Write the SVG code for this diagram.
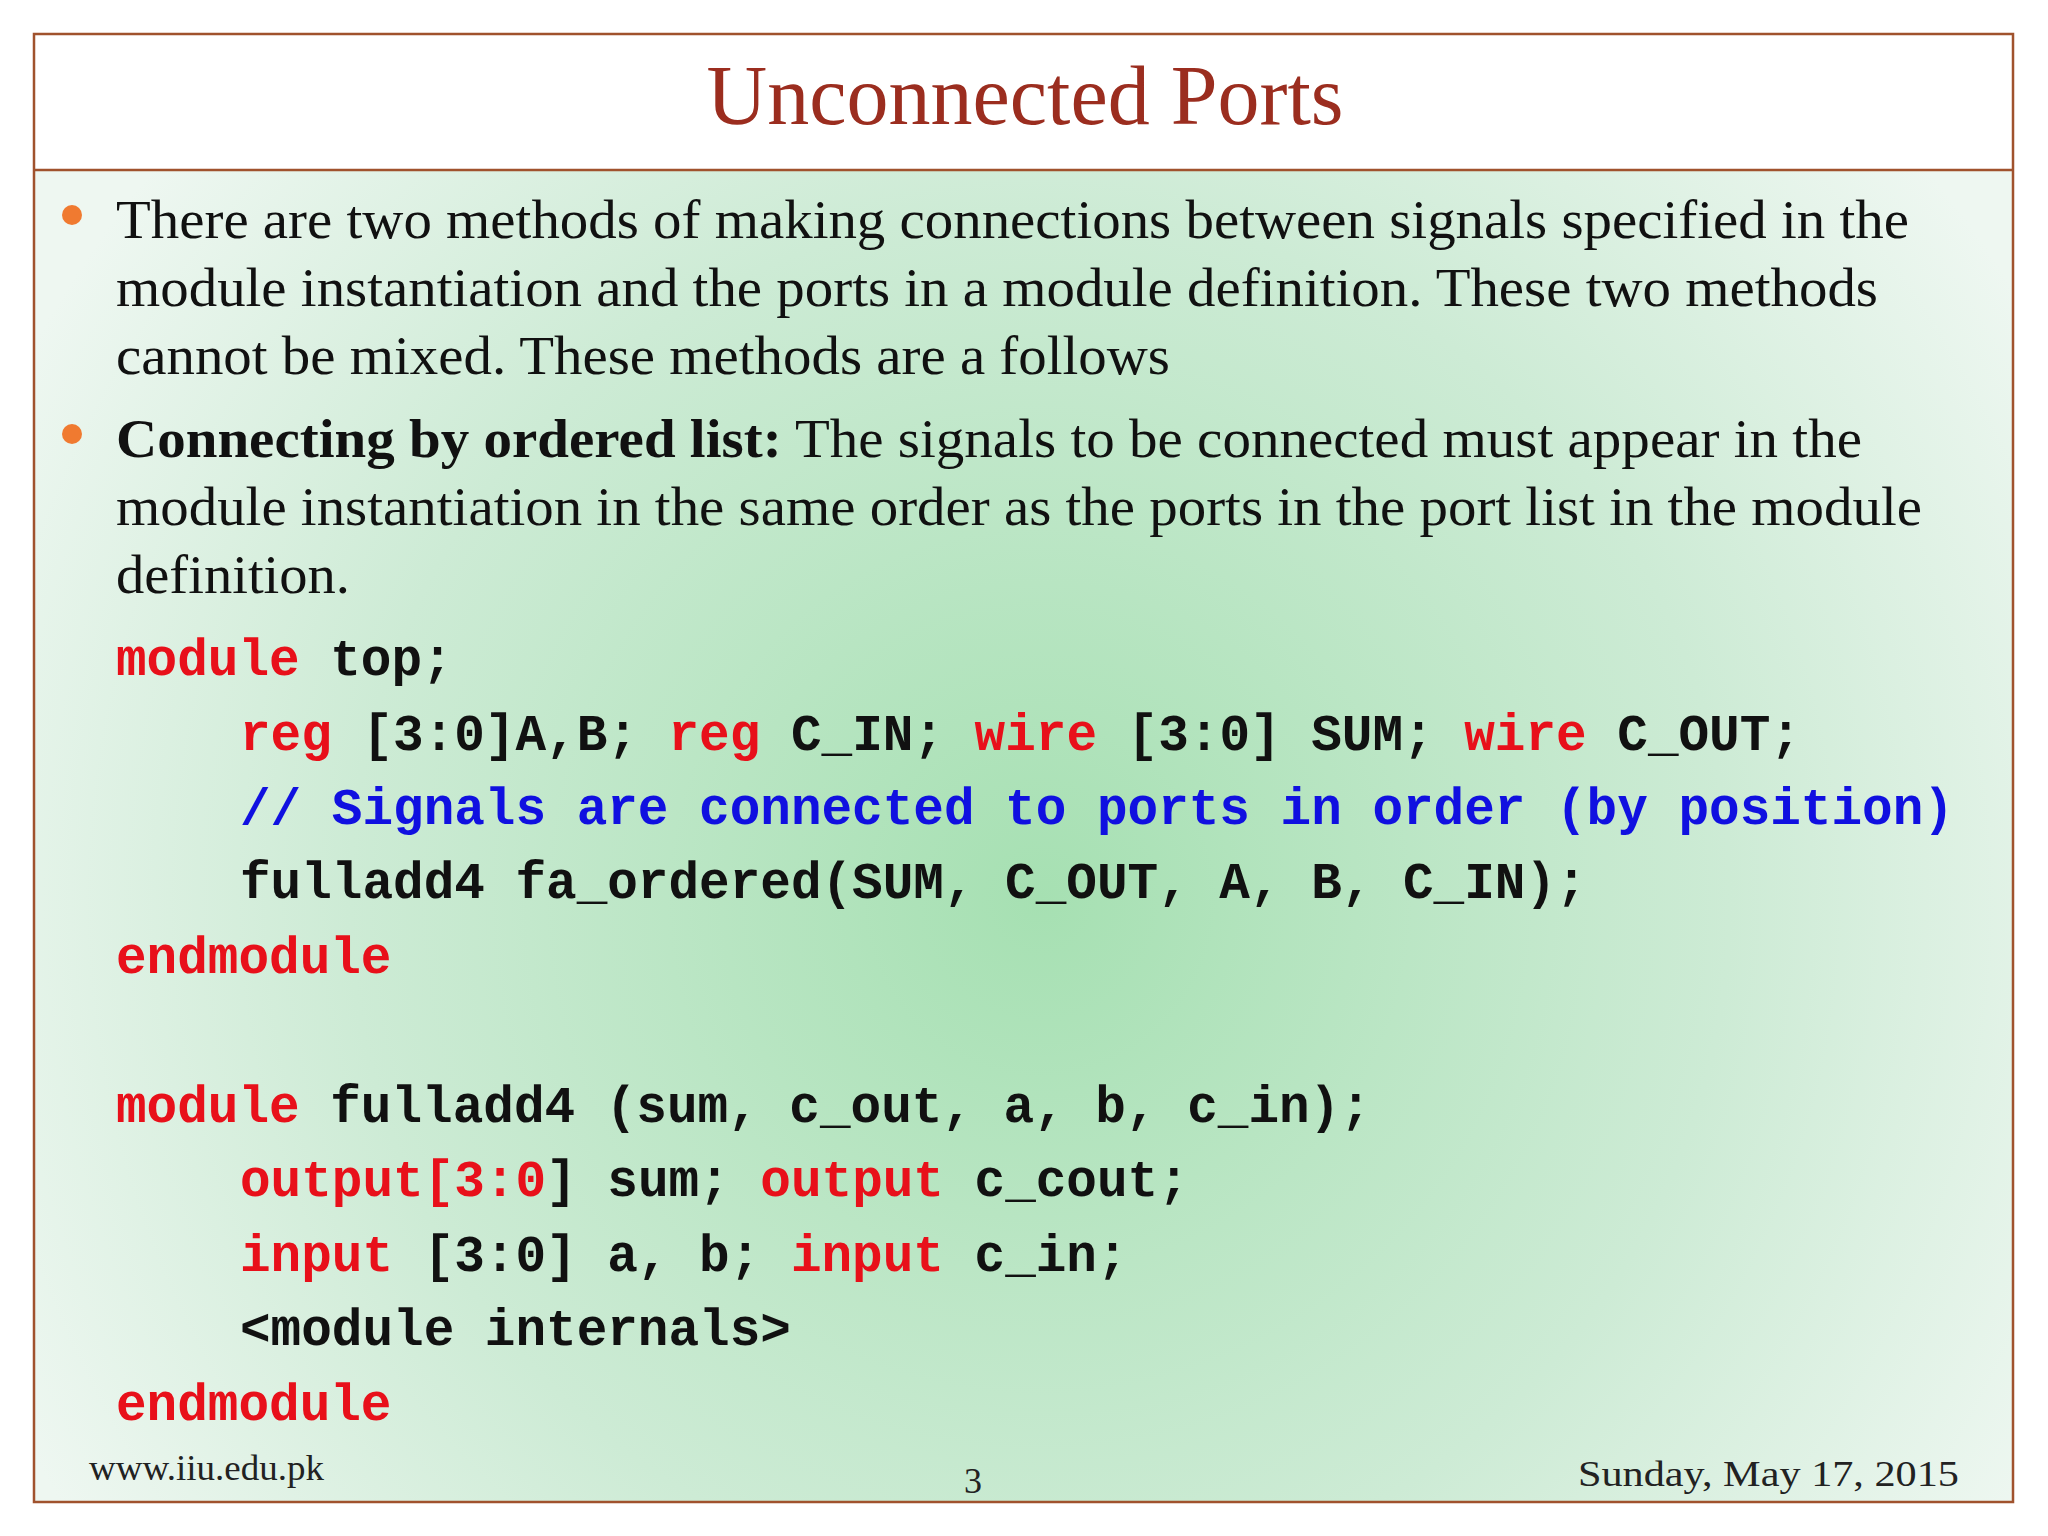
<svg xmlns="http://www.w3.org/2000/svg" width="2048" height="1536" viewBox="0 0 2048 1536">
<defs>
<radialGradient id="bg" cx="1040" cy="900" r="1150" gradientUnits="userSpaceOnUse">
<stop offset="0" stop-color="#a6e0b2"/><stop offset="0.6" stop-color="#cdebd5"/><stop offset="1" stop-color="#eef7f1"/>
</radialGradient>
<style>
.t{font-family:"Liberation Serif",serif;font-size:55px;fill:#111}
.c{font-family:"Liberation Mono",monospace;font-size:51px;font-weight:bold;fill:#111}
.k{fill:#e8101a}.b{fill:#1010e0}
.f{font-family:"Liberation Serif",serif;font-size:36px;fill:#222}
</style>
</defs>
<rect width="2048" height="1536" fill="#fff"/>
<rect x="34" y="170" width="1979" height="1332" fill="url(#bg)"/>
<rect x="34" y="34" width="1979" height="1468" fill="none" stroke="#a0522d" stroke-width="2.5"/>
<line x1="34" y1="170" x2="2013" y2="170" stroke="#a0522d" stroke-width="2.5"/>
<text x="1025" y="124" text-anchor="middle" font-family="Liberation Serif,serif" font-size="84" fill="#9b2d1f">Unconnected Ports</text>
<g id="bullets">
<circle cx="72" cy="215" r="10" fill="#f07a30"/>
<circle cx="72" cy="434" r="10" fill="#f07a30"/>
<text class="t" x="116" y="238" textLength="1793" lengthAdjust="spacingAndGlyphs">There are two methods of making connections between signals specified in the</text>
<text class="t" x="116" y="306" textLength="1762" lengthAdjust="spacingAndGlyphs">module instantiation and the ports in a module definition. These two methods</text>
<text class="t" x="116" y="374" textLength="1054" lengthAdjust="spacingAndGlyphs">cannot be mixed. These methods are a follows</text>
<text class="t" x="116" y="457" textLength="1746" lengthAdjust="spacingAndGlyphs"><tspan font-weight="bold">Connecting by ordered list:</tspan> The signals to be connected must appear in the</text>
<text class="t" x="116" y="525" textLength="1806" lengthAdjust="spacingAndGlyphs">module instantiation in the same order as the ports in the port list in the module</text>
<text class="t" x="116" y="593" textLength="234" lengthAdjust="spacingAndGlyphs">definition.</text>
</g>
<g id="code" xml:space="preserve">
<text class="c" x="116" y="675"><tspan class="k">module</tspan> top;</text>
<text class="c" x="240" y="750"><tspan class="k">reg</tspan> [3:0]A,B; <tspan class="k">reg</tspan> C_IN; <tspan class="k">wire</tspan> [3:0] SUM; <tspan class="k">wire</tspan> C_OUT;</text>
<text class="c b" x="240" y="824">// Signals are connected to ports in order (by position)</text>
<text class="c" x="240" y="898">fulladd4 fa_ordered(SUM, C_OUT, A, B, C_IN);</text>
<text class="c k" x="116" y="973">endmodule</text>
<text class="c" x="116" y="1122"><tspan class="k">module</tspan> fulladd4 (sum, c_out, a, b, c_in);</text>
<text class="c" x="240" y="1196"><tspan class="k">output[3:0</tspan>] sum; <tspan class="k">output</tspan> c_cout;</text>
<text class="c" x="240" y="1271"><tspan class="k">input</tspan> [3:0] a, b; <tspan class="k">input</tspan> c_in;</text>
<text class="c" x="240" y="1345">&lt;module internals&gt;</text>
<text class="c k" x="116" y="1420">endmodule</text>
</g>
<g id="footer">
<text class="f" x="89" y="1480" textLength="235" lengthAdjust="spacingAndGlyphs">www.iiu.edu.pk</text>
<text class="f" x="973" y="1493" text-anchor="middle" font-size="40">3</text>
<text class="f" x="1578" y="1486" font-size="41" textLength="381" lengthAdjust="spacingAndGlyphs">Sunday, May 17, 2015</text>
</g>
</svg>
